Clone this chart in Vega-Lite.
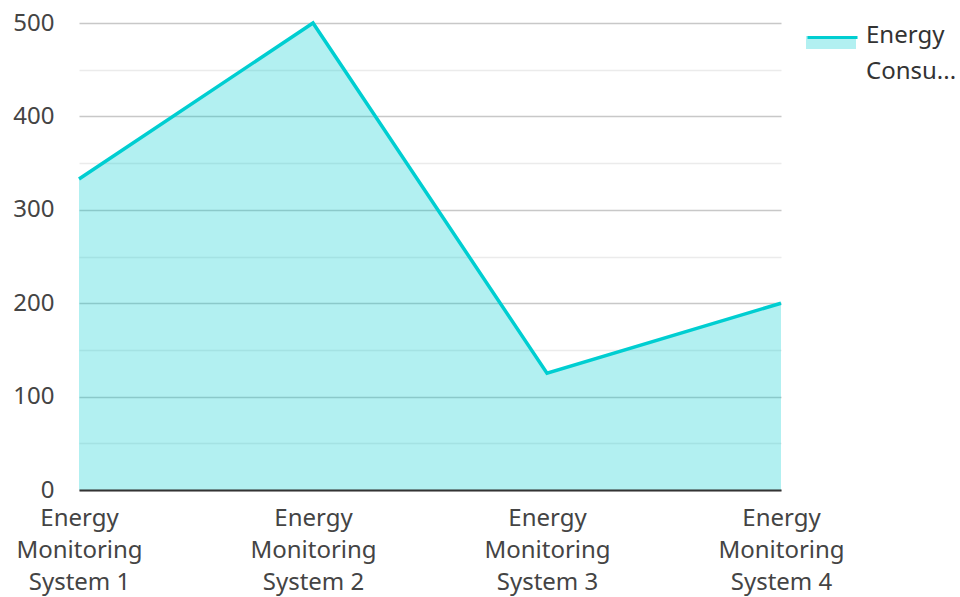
{
  "$schema": "https://vega.github.io/schema/vega-lite/v6.json",
  "width": 702,
  "height": 467,
  "autosize": {"type": "none"},
  "padding": {"left": 79, "top": 23, "right": 179, "bottom": 107},
  "background": "white",
  "config": {"view": {"stroke": null}, "font": "Noto Sans"},
  "data": {
    "values": [
      {"system": "Energy Monitoring System 1", "value": 333, "series": "Energy Consumption"},
      {"system": "Energy Monitoring System 2", "value": 500, "series": "Energy Consumption"},
      {"system": "Energy Monitoring System 3", "value": 125, "series": "Energy Consumption"},
      {"system": "Energy Monitoring System 4", "value": 200, "series": "Energy Consumption"}
    ]
  },
  "encoding": {
    "x": {
      "field": "system",
      "type": "nominal",
      "scale": {"type": "point", "padding": 0},
      "axis": {
        "title": null,
        "domainColor": "#333333",
        "domainWidth": 2,
        "ticks": false,
        "grid": false,
        "labelAngle": 0,
        "labelFont": "Noto Sans",
        "labelFontSize": 24,
        "labelColor": "#444444",
        "labelPadding": 16,
        "labelLineHeight": 32,
        "labelBaseline": "top",
        "labelOverlap": false,
        "labelBound": false,
        "labelExpr": "['Energy', 'Monitoring', replace(datum.label, 'Energy Monitoring ', '')]",
        "zindex": 1
      }
    },
    "y": {
      "field": "value",
      "type": "quantitative",
      "scale": {"domain": [0, 500], "nice": false},
      "axis": {
        "title": null,
        "values": [0, 50, 100, 150, 200, 250, 300, 350, 400, 450, 500],
        "domain": false,
        "ticks": false,
        "labelFont": "Noto Sans",
        "labelFontSize": 24,
        "labelColor": "#444444",
        "labelPadding": 25,
        "labelExpr": "datum.value % 100 === 0 ? datum.label : ''",
        "gridColor": {"condition": {"test": "datum.value % 100 === 0", "value": "#c8c8c8"}, "value": "#ebebeb"},
        "gridWidth": 1.5
      }
    }
  },
  "layer": [
    {
      "mark": {"type": "area", "fillOpacity": 0.3},
      "encoding": {
        "fill": {
          "field": "series",
          "type": "nominal",
          "scale": {"range": ["#00CED1"]},
          "legend": {
            "orient": "none",
            "legendX": 727,
            "legendY": -12,
            "title": null,
            "symbolType": "M-1,0 H1 V0.52 H-1 Z",
            "symbolSize": 2500,
            "symbolStrokeWidth": 0,
            "symbolOpacity": 0.3,
            "labelFont": "Noto Sans",
            "labelFontSize": 24,
            "labelColor": "#333333",
            "labelOffset": 10,
            "labelExpr": "['Energy', 'Consu...']",
            "encode": {"labels": {"update": {"lineHeight": {"value": 36}}}}
          }
        }
      }
    },
    {
      "mark": {"type": "line", "strokeWidth": 3.5},
      "encoding": {
        "stroke": {
          "field": "series",
          "type": "nominal",
          "scale": {"range": ["#00CED1"]},
          "legend": {
            "orient": "none",
            "legendX": 727,
            "legendY": -12,
            "title": null,
            "symbolType": "M-1,0 H1",
            "symbolSize": 2500,
            "symbolStrokeWidth": 3,
            "labelExpr": "''"
          }
        }
      }
    }
  ]
}
